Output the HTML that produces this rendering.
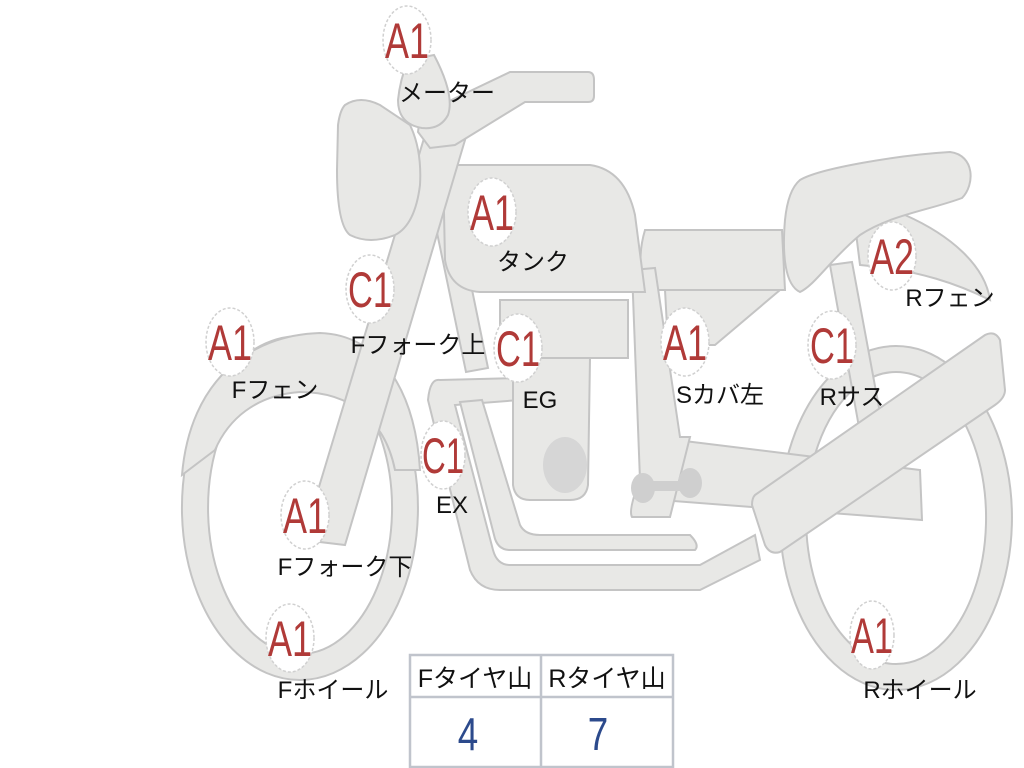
<!DOCTYPE html>
<html><head><meta charset="utf-8"><style>
html,body{margin:0;padding:0;background:#fff;width:1024px;height:768px;overflow:hidden}
svg{display:block}
.p{fill:#e8e8e6;stroke:#c4c4c4;stroke-width:2}
.b{fill:#fff;stroke:#d0d0d0;stroke-width:1.5;stroke-dasharray:3 2}
.bt{font-family:"Liberation Sans",sans-serif;fill:#b03a38;font-size:50px}
.l{font-family:"Liberation Sans","Noto Sans CJK JP",sans-serif;fill:#111;font-size:24px}
</style></head><body>
<svg width="1024" height="768" viewBox="0 0 1024 768" xmlns="http://www.w3.org/2000/svg">
<path class="p" fill-rule="evenodd" d="M896,346 A116,172 0 1,1 895.9,346 Z M896,372 A90,146 0 1,0 896.1,372 Z"/>
<path class="p" fill-rule="evenodd" d="M300,336 A118,172 0 1,1 299.9,336 Z M300,362 A92,146 0 1,0 300.1,362 Z"/>
<path class="p" d="M182,475 C190,380 250,335 320,333 C380,335 415,390 420,470 L395,470 C385,420 350,392 300,392 C255,395 228,420 215,450 Z"/>
<path class="p" d="M855,225 L905,215 C950,235 985,265 990,300 C960,285 920,270 860,265 Z"/>
<path class="p" d="M830,265 L852,262 L885,440 L862,444 Z"/>
<path class="p" d="M665,290 L780,290 L715,345 L668,345 Z"/>
<path class="p" d="M645,230 L782,230 L785,290 L645,290 Q636,260 645,230 Z"/>
<path class="p" d="M800,180 C820,168 900,155 950,152 C975,155 975,185 962,198 C930,210 890,215 860,235 C830,260 815,285 800,292 C785,285 782,255 785,220 Q788,190 800,180 Z"/>
<path class="p" d="M660,438 L920,470 L922,520 L660,500 Z"/>
<path class="p" d="M632,270 L655,268 L680,437 L690,437 L670,517 L632,517 Q628,510 640,480 Z"/>
<path class="p" d="M440,380 Q430,378 428,400 L470,570 Q478,590 500,590 L700,590 L760,560 L755,535 L700,565 L510,565 Q497,565 493,550 L455,405 L520,400 L520,378 Z"/>
<path class="p" d="M460,402 L482,400 L520,525 Q525,535 540,535 L690,535 Q700,545 695,550 L510,550 Q497,550 494,535 Z"/>
<path class="p" d="M513,358 L590,358 L588,485 Q586,500 570,500 L530,500 Q515,500 513,485 Z"/>
<ellipse cx="565" cy="465" rx="22" ry="28" fill="#d6d6d6"/>
<path class="p" d="M500,300 L628,300 L628,358 L500,358 Z"/>
<g fill="#cfcfcf"><ellipse cx="643" cy="488" rx="12" ry="15"/><ellipse cx="690" cy="483" rx="12" ry="15"/><rect x="645" y="481" width="45" height="10"/></g>
<path class="p" d="M755,495 L985,335 Q995,330 1000,340 L1005,390 Q1005,398 995,405 L780,552 Q770,555 765,545 L752,505 Q752,498 755,495 Z"/>
<path class="p" d="M425,175 L448,172 L488,368 L466,372 Z"/>
<path class="p" d="M443,165 L590,165 Q625,170 635,215 L645,292 L480,292 Q450,290 445,260 Z"/>
<path class="p" d="M425,135 L465,140 L345,545 L303,540 Z"/>
<path class="p" d="M345,105 Q360,95 380,105 L410,125 Q422,150 420,185 Q415,225 395,235 Q370,245 350,235 Q337,225 337,170 L338,125 Q340,110 345,105 Z"/>
<path class="p" d="M418,132 L420,115 L510,72 L588,72 Q594,72 594,80 L594,96 Q594,102 588,102 L525,102 L455,145 L430,148 Z"/>
<path class="p" d="M408,60 L434,55 Q455,95 448,115 Q440,130 422,128 Q398,124 398,100 Q400,80 408,60 Z"/>
<g fill="#fff" stroke="#c0c4cc" stroke-width="2.5">
<rect x="410" y="655" width="263" height="112"/>
<line x1="410" y1="697" x2="673" y2="697"/>
<line x1="541" y1="655" x2="541" y2="767"/>
</g>
<text class="l" x="475" y="687" text-anchor="middle" style="font-size:25px">Fタイヤ山</text>
<text class="l" x="607" y="687" text-anchor="middle" style="font-size:25px">Rタイヤ山</text>
<text x="468" y="750" text-anchor="middle" font-family="Liberation Sans,sans-serif" font-size="46" fill="#2c4a8c" transform="translate(468 0) scale(0.8 1) translate(-468 0)">4</text>
<text x="598" y="750" text-anchor="middle" font-family="Liberation Sans,sans-serif" font-size="46" fill="#2c4a8c" transform="translate(598 0) scale(0.8 1) translate(-598 0)">7</text>
<g>
<ellipse class="b" cx="407" cy="40" rx="24" ry="34"/><text class="bt" x="407" y="58" text-anchor="middle" textLength="44" lengthAdjust="spacingAndGlyphs">A1</text>
<ellipse class="b" cx="492" cy="212" rx="24" ry="34"/><text class="bt" x="492" y="230" text-anchor="middle" textLength="44" lengthAdjust="spacingAndGlyphs">A1</text>
<ellipse class="b" cx="370" cy="289" rx="24" ry="34"/><text class="bt" x="370" y="307" text-anchor="middle" textLength="44" lengthAdjust="spacingAndGlyphs">C1</text>
<ellipse class="b" cx="230" cy="342" rx="24" ry="34"/><text class="bt" x="230" y="360" text-anchor="middle" textLength="44" lengthAdjust="spacingAndGlyphs">A1</text>
<ellipse class="b" cx="518" cy="348" rx="24" ry="34"/><text class="bt" x="518" y="366" text-anchor="middle" textLength="44" lengthAdjust="spacingAndGlyphs">C1</text>
<ellipse class="b" cx="685" cy="342" rx="24" ry="34"/><text class="bt" x="685" y="360" text-anchor="middle" textLength="44" lengthAdjust="spacingAndGlyphs">A1</text>
<ellipse class="b" cx="832" cy="345" rx="24" ry="34"/><text class="bt" x="832" y="363" text-anchor="middle" textLength="44" lengthAdjust="spacingAndGlyphs">C1</text>
<ellipse class="b" cx="892" cy="256" rx="24" ry="34"/><text class="bt" x="892" y="274" text-anchor="middle" textLength="44" lengthAdjust="spacingAndGlyphs">A2</text>
<ellipse class="b" cx="443" cy="455" rx="22" ry="34"/><text class="bt" x="443" y="473" text-anchor="middle" textLength="42" lengthAdjust="spacingAndGlyphs">C1</text>
<ellipse class="b" cx="305" cy="515" rx="24" ry="34"/><text class="bt" x="305" y="533" text-anchor="middle" textLength="44" lengthAdjust="spacingAndGlyphs">A1</text>
<ellipse class="b" cx="290" cy="638" rx="24" ry="34"/><text class="bt" x="290" y="656" text-anchor="middle" textLength="44" lengthAdjust="spacingAndGlyphs">A1</text>
<ellipse class="b" cx="872" cy="635" rx="22" ry="34"/><text class="bt" x="872" y="653" text-anchor="middle" textLength="42" lengthAdjust="spacingAndGlyphs">A1</text>
</g>
<text class="l" x="447" y="101" text-anchor="middle">メーター</text>
<text class="l" x="533" y="270" text-anchor="middle">タンク</text>
<text class="l" x="418" y="353" text-anchor="middle">Fフォーク上</text>
<text class="l" x="275" y="398" text-anchor="middle">Fフェン</text>
<text class="l" x="540" y="408" text-anchor="middle">EG</text>
<text class="l" x="720" y="403" text-anchor="middle">Sカバ左</text>
<text class="l" x="852" y="405" text-anchor="middle">Rサス</text>
<text class="l" x="950" y="306" text-anchor="middle">Rフェン</text>
<text class="l" x="452" y="513" text-anchor="middle">EX</text>
<text class="l" x="345" y="575" text-anchor="middle">Fフォーク下</text>
<text class="l" x="333" y="698" text-anchor="middle">Fホイール</text>
<text class="l" x="920" y="698" text-anchor="middle">Rホイール</text>
</svg>
</body></html>
